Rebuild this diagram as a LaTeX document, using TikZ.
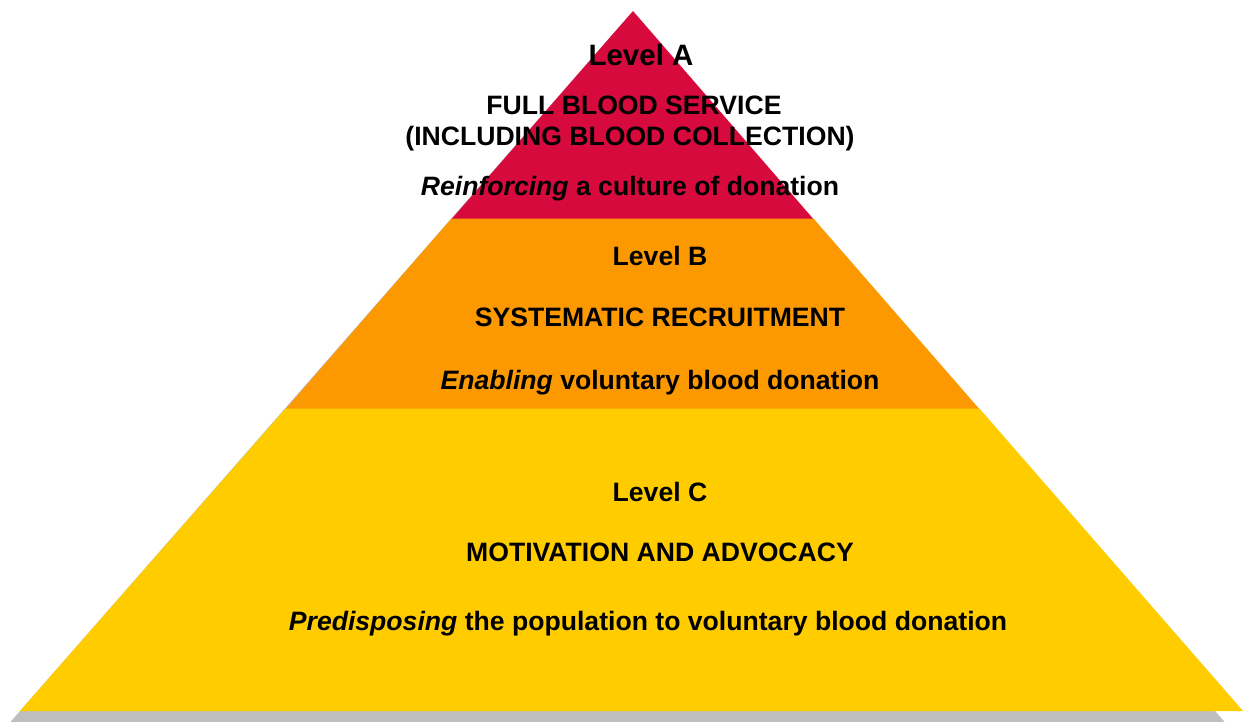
\documentclass[tikz,border=0pt]{standalone}
\usepackage{fontspec}
\setmainfont{Liberation Sans}
\definecolor{tierA}{RGB}{214,10,60}
\definecolor{tierB}{RGB}{253,153,0}
\definecolor{tierC}{RGB}{255,204,0}
\definecolor{shadowgray}{RGB}{191,191,191}
\begin{document}
\begin{tikzpicture}[x=1pt,y=-1pt,
  lbl/.style={anchor=base,inner sep=0pt,font=\fontsize{26.6}{30}\selectfont\bfseries},
  biglbl/.style={lbl,font=\fontsize{29.5}{33}\selectfont\bfseries}]
\useasboundingbox (0,0) rectangle (1244,722);
% drop shadow of the pyramid
\begin{scope}
\clip (0,0) rectangle (1244,722);
\fill[shadowgray] (619,27) -- (6,727) -- (1229,727) -- cycle;
\end{scope}
% the three tiers
\fill[tierC] (286,408) -- (20,711) -- (1243,711) -- (979,408) -- cycle;
\fill[tierB] (452,218) -- (286,408.6) -- (979,408.6) -- (813,218) -- cycle;
\fill[tierA] (633,11) -- (452,218.6) -- (813,218.6) -- cycle;
% tier A
\node[biglbl] (la) at (641,66) {Level A};
\node[lbl] (a1) at (634,115) {FULL BLOOD SERVICE};
\node[lbl] (a2) at (630,146) {(INCLUDING BLOOD COLLECTION)};
\node[lbl] (a3) at (630,196) {\textit{Reinforcing} a culture of donation};
% tier B
\node[lbl] (lb) at (660,265) {Level B};
\node[lbl] (b1) at (660,326) {SYSTEMATIC RECRUITMENT};
\node[lbl] (b2) at (660,389) {\textit{Enabling} voluntary blood donation};
% tier C
\node[lbl] (lc) at (660,501) {Level C};
\node[lbl] (c1) at (660,561) {MOTIVATION AND ADVOCACY};
\node[lbl] (c2) at (648,630) {\textit{Predisposing} the population to voluntary blood donation};
\end{tikzpicture}
\end{document}
